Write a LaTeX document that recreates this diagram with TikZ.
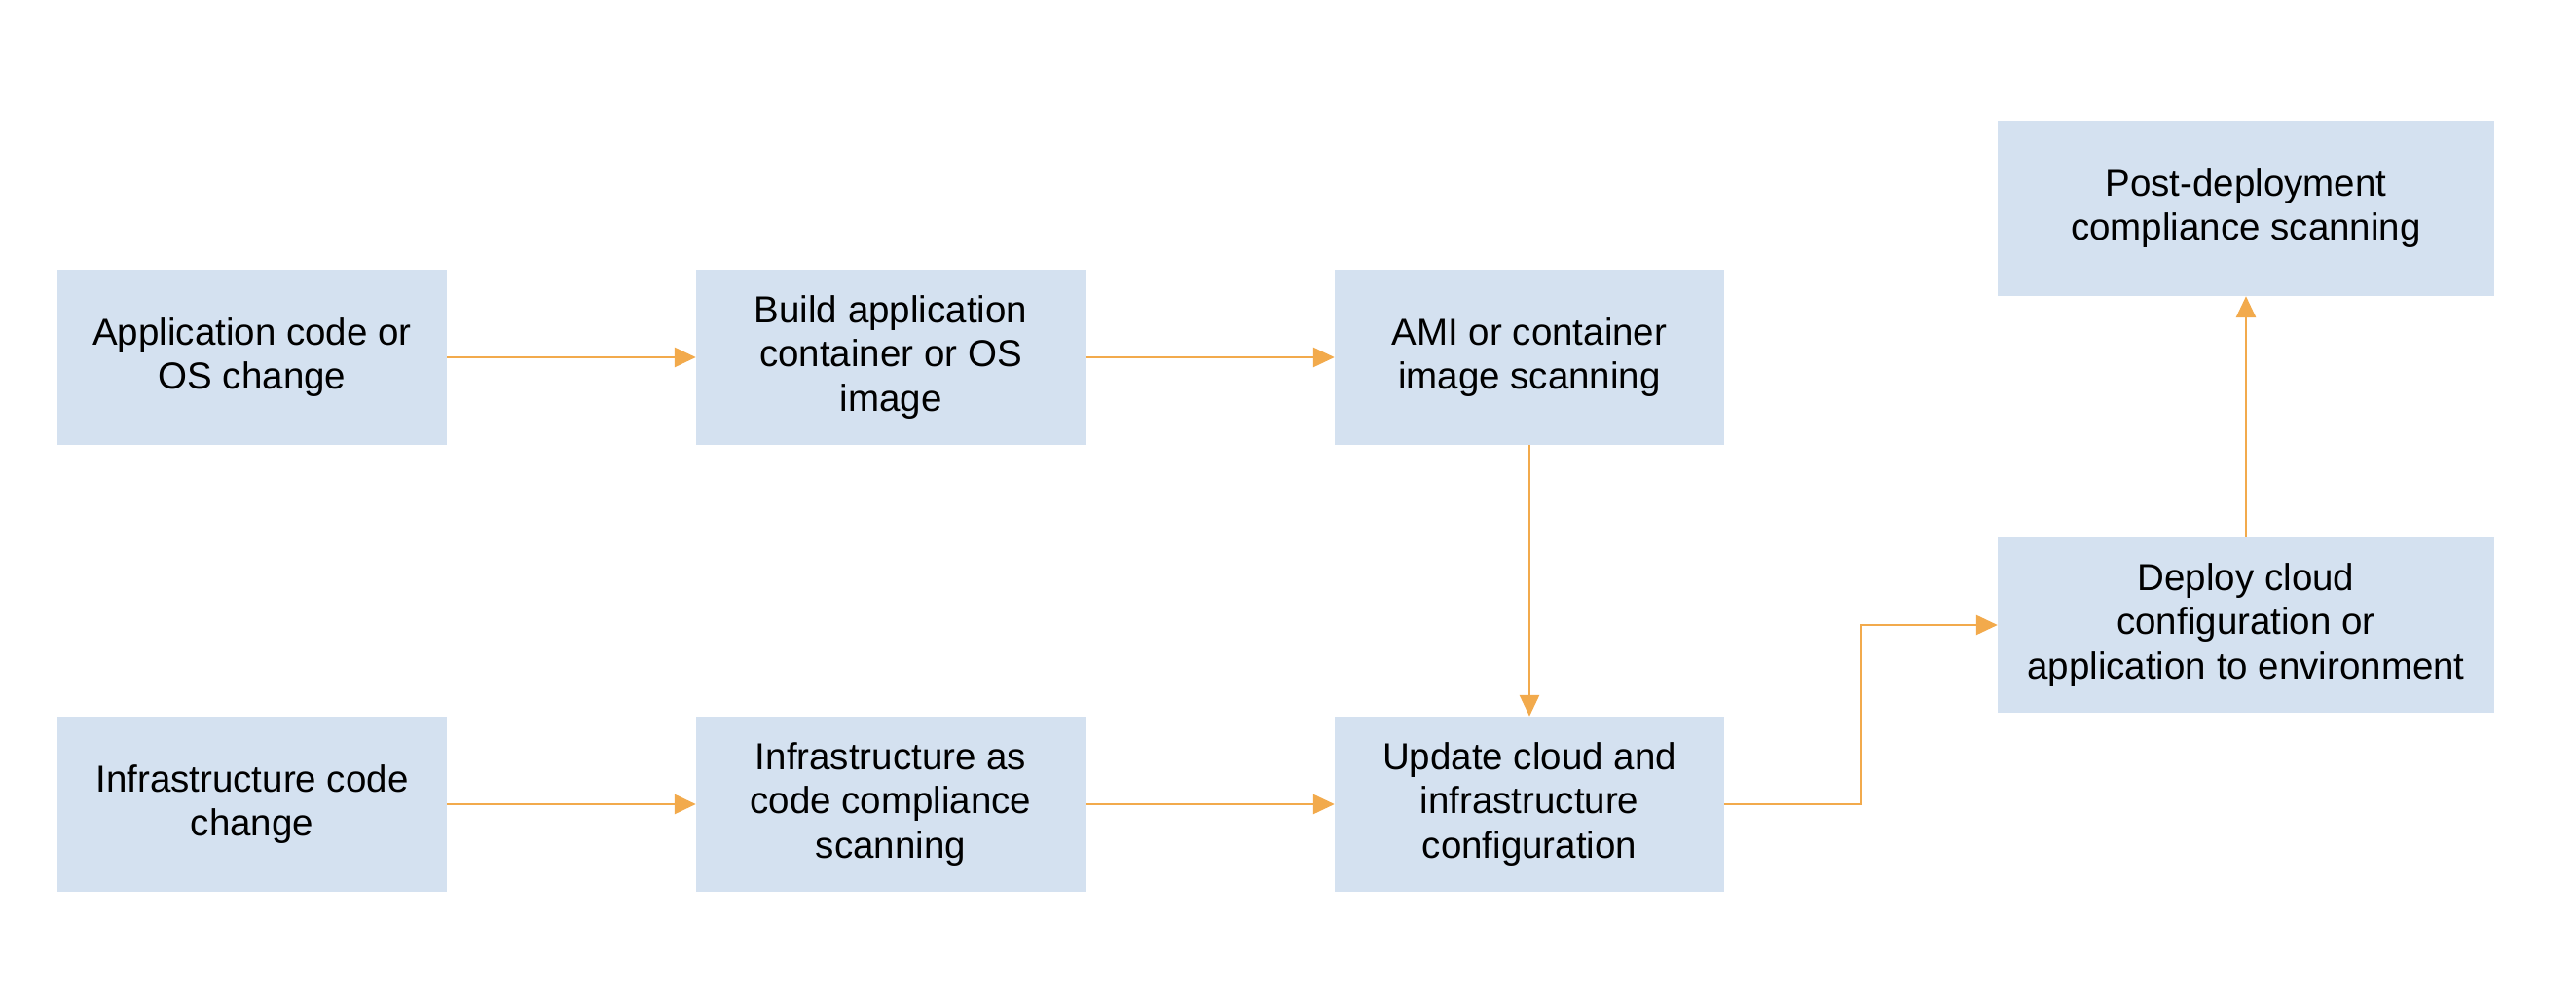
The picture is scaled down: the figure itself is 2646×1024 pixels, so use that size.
\documentclass[tikz,border=0pt]{standalone}
\usepackage{fontspec}
\setmainfont{Liberation Sans}
\usetikzlibrary{arrows.meta}
\definecolor{boxblue}{HTML}{D4E1F0}
\definecolor{arrorange}{HTML}{F2AA4C}
\begin{document}
\begin{tikzpicture}[x=1pt,y=1pt,
  box/.style={fill=boxblue, draw=none, minimum width=400pt, minimum height=180pt, align=center, inner sep=0pt, font=\fontsize{38.5}{45.5}\selectfont},
  widebox/.style={box, minimum width=510pt},
  flow/.style={draw=arrorange, line width=2.8pt, -{Triangle[length=22pt,width=20pt]}}
]
\useasboundingbox (0,0) rectangle (2646,1024);
\node[box] (app) at (259,657) {Application code or\\OS change};
\node[box] (build) at (915,657) {Build application\\container or OS\\image};
\node[box] (ami) at (1571,657) {AMI or container\\image scanning};
\node[box] (infra) at (259,198) {Infrastructure code\\change};
\node[box] (iac) at (915,198) {Infrastructure as\\code compliance\\scanning};
\node[box] (upd) at (1571,198) {Update cloud and\\infrastructure\\configuration};
\node[widebox] (dep) at (2307,382) {Deploy cloud\\configuration or\\application to environment};
\node[widebox] (post) at (2307,810) {Post-deployment\\compliance scanning};
\coordinate (bend) at (1912,198);
\draw[flow] (app) -- (build);
\draw[flow] (build) -- (ami);
\draw[flow] (ami) -- (upd);
\draw[flow] (infra) -- (iac);
\draw[flow] (iac) -- (upd);
\draw[flow] (upd.east) -- (bend) |- (dep.west);
\draw[flow] (dep) -- (post);
\end{tikzpicture}
\end{document}
